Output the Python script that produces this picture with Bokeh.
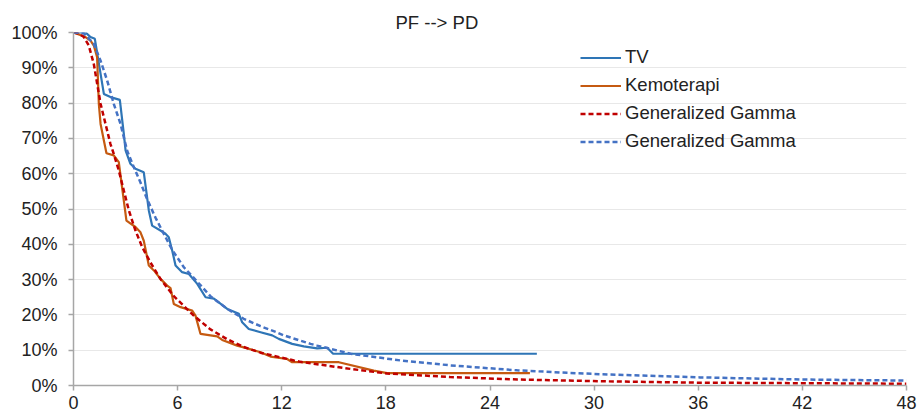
from bokeh.plotting import figure
from bokeh.models import (Legend, LegendItem, FixedTicker, NumeralTickFormatter, Range1d)
from bokeh.embed import file_html
from bokeh.resources import INLINE

# ---- data (months, survival fraction in %) ----
tv_t = [0, 0.7, 0.98, 1.23, 1.75, 2.13, 2.67, 2.9, 3.0, 3.28, 3.57, 4.05, 4.34, 4.53,
        5.01, 5.3, 5.49, 5.69, 5.88, 6.26, 6.65, 7.13, 7.61, 8.09, 8.86, 9.53, 9.72,
        10.1, 10.78, 11.45, 11.83, 12.6, 13.27, 14.04, 14.62, 14.96, 26.7]
tv_s = [100, 100, 98.7, 98.2, 82.6, 81.7, 80.9, 71.3, 66.6, 62.8, 61.4, 60.4, 49.6, 45.3,
        43.9, 43.0, 42.0, 38.2, 34.0, 32.1, 31.6, 28.8, 25.0, 24.6, 21.7, 20.3, 17.9,
        16.0, 15.1, 14.2, 13.2, 11.8, 11.1, 10.5, 10.7, 9.0, 9.0]

kemo_t = [0, 0.69, 0.98, 1.17, 1.36, 1.46, 1.56, 1.75, 1.9, 2.32, 2.61, 2.75, 3.05, 3.57,
          3.86, 4.05, 4.34, 4.63, 5.01, 5.4, 5.59, 5.78, 6.17, 6.84, 7.03, 7.32, 8.28,
          8.57, 9.43, 9.81, 10.78, 11.35, 12.31, 12.6, 15.29, 17.3, 18.07, 26.3]
kemo_s = [100, 98.7, 97.7, 96.3, 93.0, 79.8, 74.1, 69.4, 65.8, 65.2, 63.3, 58.0, 46.7, 44.9,
          43.4, 41.0, 34.0, 32.6, 30.2, 28.3, 27.6, 23.1, 22.2, 21.2, 19.8, 14.6, 13.9,
          12.9, 11.3, 10.8, 9.4, 8.2, 7.5, 6.6, 6.6, 4.2, 3.5, 3.5]

gg_kemo_t = [0, 0.3, 0.6, 0.88, 1.17, 1.56, 2.13, 2.32, 2.61, 2.9, 3.19, 3.57, 3.96, 4.44,
             5.01, 5.78, 6.93, 7.89, 8.86, 9.81, 10.78, 11.54, 12.7, 13.08, 15.96, 18.07,
             21.7, 25.6, 30.4, 36.1, 41.9, 48]
gg_kemo_s = [100, 99.7, 98.7, 96.3, 91.1, 79.8, 68.4, 65.6, 60.9, 55.2, 49.6, 43.9, 39.2, 34.8,
             30.2, 25.3, 19.8, 15.9, 13.1, 10.9, 9.3, 8.4, 7.1, 6.7, 4.7, 3.4,
             2.4, 1.7, 1.2, 0.8, 0.65, 0.5]

gg_tv_t = [0, 0.58, 1.17, 1.56, 1.94, 2.32, 2.71, 3.09, 3.48, 3.86, 4.24, 4.73, 5.2, 5.69,
           6.36, 6.93, 7.89, 8.86, 9.81, 10.78, 11.74, 12.12, 13.66, 14.04, 15.96, 18.84,
           21.72, 25.57, 28.45, 30.4, 36.1, 41.9, 48]
gg_tv_s = [100, 99.8, 96.8, 92.0, 86.4, 79.8, 74.1, 66.5, 61.8, 57.5, 52.8, 47.5, 43.0, 38.4,
           33.5, 30.5, 25.3, 21.7, 18.9, 16.8, 15.0, 14.2, 11.8, 11.3, 9.0, 7.1,
           5.7, 4.3, 3.6, 3.2, 2.3, 1.7, 1.4]

x_ticks = [0, 6, 12, 18, 24, 30, 36, 42, 48]
y_ticks = [0, 0.1, 0.2, 0.3, 0.4, 0.5, 0.6, 0.7, 0.8, 0.9, 1.0]
title_text = "PF --> PD"
labels = ["TV", "Kemoterapi", "Generalized Gamma", "Generalized Gamma"]


def frac(v):
    return [x / 100.0 for x in v]


p = figure(width=918, height=417, output_backend="svg", toolbar_location=None,
           x_range=Range1d(0, 48), y_range=Range1d(0, 1),
           min_border_left=73, min_border_right=12, min_border_top=32, min_border_bottom=32)
p.outline_line_color = None
p.background_fill_color = "white"
p.border_fill_color = "white"

FONT = "Liberation Sans"
TXT = "#222222"
AX = "#a6a6a6"

p.title.text = title_text
p.title.align = "left"
p.title.offset = 322
p.title.standoff = 0
p.title.text_font = FONT
p.title.text_font_size = "18.5px"
p.title.text_font_style = "normal"
p.title.text_color = TXT

for ax in (p.xaxis[0], p.yaxis[0]):
    ax.axis_line_color = AX
    ax.axis_line_width = 1.5
    ax.major_tick_line_color = AX
    ax.major_tick_line_width = 1.5
    ax.major_tick_out = 5
    ax.major_tick_in = 0
    ax.minor_tick_line_color = None
    ax.major_label_text_font = FONT
    ax.major_label_text_font_size = "18px"
    ax.major_label_text_color = TXT

p.xaxis.ticker = FixedTicker(ticks=x_ticks)
p.yaxis.ticker = FixedTicker(ticks=y_ticks)
p.yaxis.formatter = NumeralTickFormatter(format="0%")
p.xaxis.major_label_standoff = 5
p.yaxis.major_label_standoff = 11

p.xgrid.grid_line_color = None
p.ygrid.grid_line_color = "#e8e8e8"
p.ygrid.grid_line_width = 1

r_tv = p.line(tv_t, frac(tv_s), line_color="#2e75b6", line_width=2.2)
r_kemo = p.line(kemo_t, frac(kemo_s), line_color="#c55a11", line_width=2.2)
r_ggk = p.line(gg_kemo_t, frac(gg_kemo_s), line_color="#c00000", line_width=2.5,
               line_dash="5 3")
r_ggt = p.line(gg_tv_t, frac(gg_tv_s), line_color="#4472c4", line_width=2.5,
               line_dash="5 3")

legend = Legend(items=[LegendItem(label=labels[0], renderers=[r_tv]),
                       LegendItem(label=labels[1], renderers=[r_kemo]),
                       LegendItem(label=labels[2], renderers=[r_ggk]),
                       LegendItem(label=labels[3], renderers=[r_ggt])],
                location=(507, 233), margin=0, padding=0, spacing=6,
                glyph_width=41, glyph_height=21, label_height=21,
                label_standoff=4,
                label_text_font=FONT, label_text_font_size="18.5px",
                label_text_color=TXT,
                background_fill_alpha=0, border_line_alpha=0)
p.add_layout(legend, "center")

open("out.html", "w").write(file_html(p, INLINE))
